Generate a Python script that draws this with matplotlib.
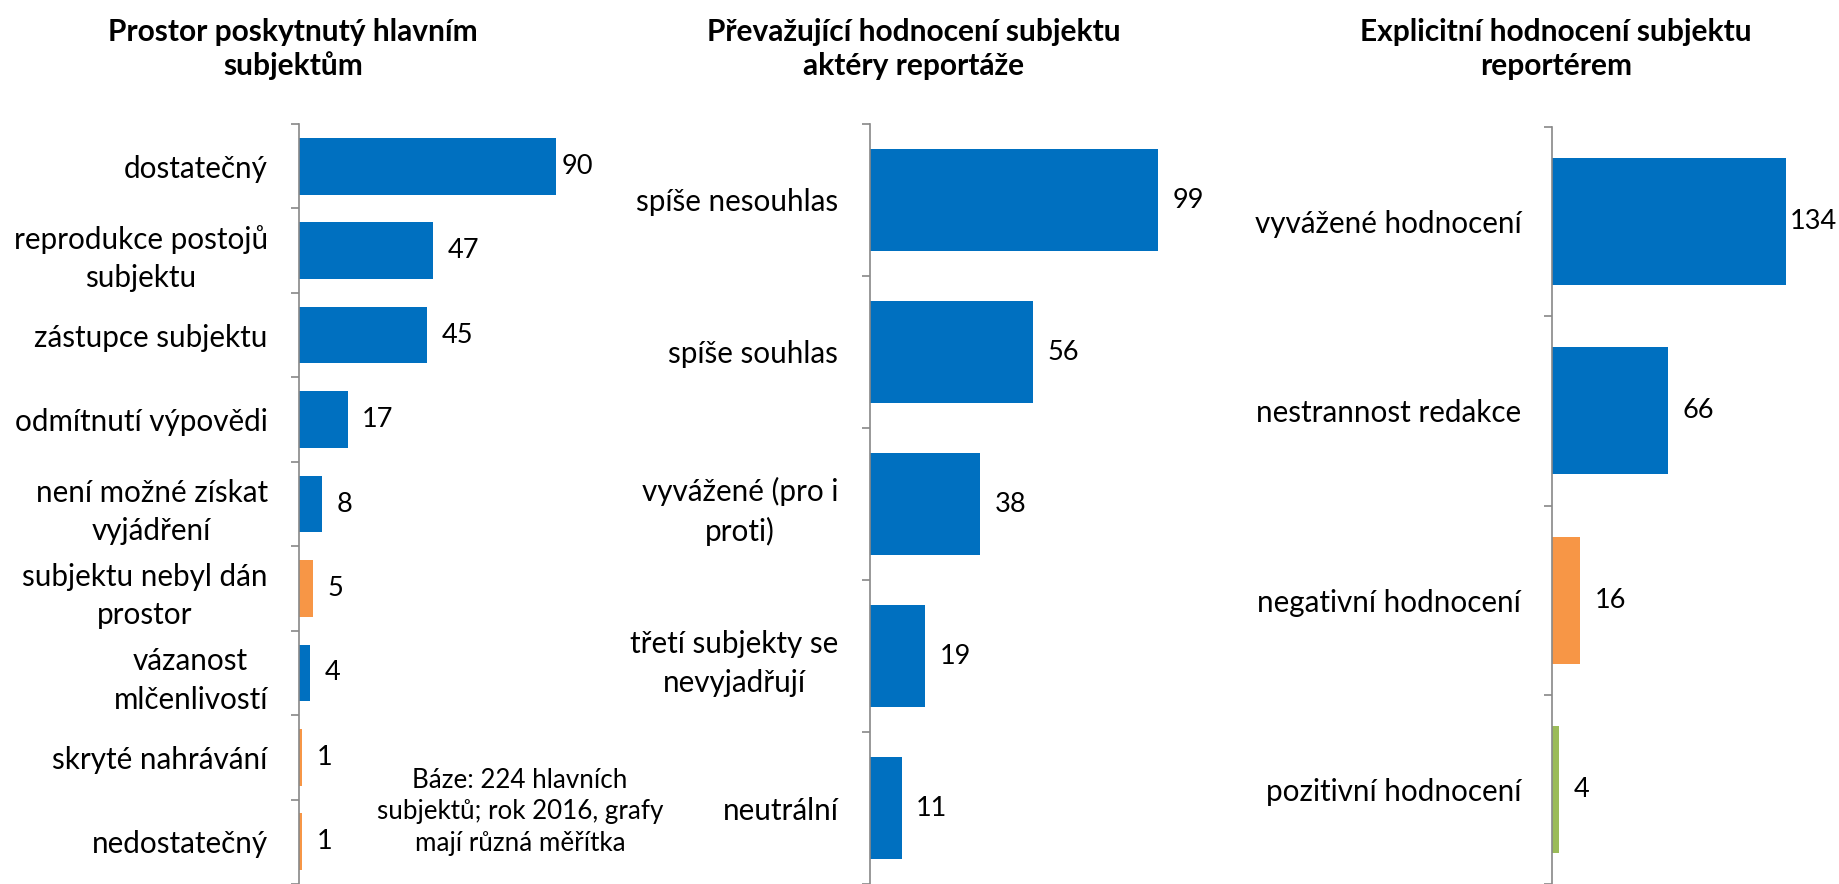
import matplotlib
matplotlib.use("Agg")
import matplotlib.pyplot as plt
from matplotlib.ticker import FixedLocator

plt.rcParams['font.family'] = ['Lato', 'DejaVu Sans']

# ---------------- data ----------------
title1 = "Prostor poskytnutý hlavním\nsubjektům"
cats1 = ["dostatečný", "reprodukce postojů\nsubjektu", "zástupce subjektu",
         "odmítnutí výpovědi", "není možné získat\nvyjádření",
         "subjektu nebyl dán\nprostor", "vázanost\nmlčenlivostí",
         "skryté nahrávání", "nedostatečný"]
vals1 = [90, 47, 45, 17, 8, 5, 4, 1, 1]
cols1 = ["blue", "blue", "blue", "blue", "blue", "orange", "blue", "orange", "orange"]

title2 = "Převažující hodnocení subjektu\naktéry reportáže"
cats2 = ["spíše nesouhlas", "spíše souhlas", "vyvážené (pro i\nproti)",
         "třetí subjekty se\nnevyjadřují", "neutrální"]
vals2 = [99, 56, 38, 19, 11]
cols2 = ["blue", "blue", "blue", "blue", "blue"]

title3 = "Explicitní hodnocení subjektu\nreportérem"
cats3 = ["vyvážené hodnocení", "nestrannost redakce", "negativní hodnocení",
         "pozitivní hodnocení"]
vals3 = [134, 66, 16, 4]
cols3 = ["blue", "blue", "orange", "green"]

note = "Báze: 224 hlavních\nsubjektů; rok 2016, grafy\nmají různá měřítka"

palette = {"blue": "#0070C0", "orange": "#F79646", "green": "#9BBB59"}

# ---------------- layout ----------------
W, H = 1840, 884
DPI = 100
fig = plt.figure(figsize=(W / DPI, H / DPI), dpi=DPI)

# (axis left px, top px, px per unit, plot-area right px, title center x px)
panels = [
    (title1, cats1, vals1, cols1, 299.0, 124, 2.855, 593, 293),
    (title2, cats2, vals2, cols2, 869.6, 124, 2.916, 1300, 914),
    (title3, cats3, vals3, cols3, 1552.5, 127, 1.743, 1837, 1556),
]

axis_col = "#888888"
renderer = fig.canvas.get_renderer()
gap_pt = 10.5
for title, cats, vals, cols, left, top, scale, right, tx in panels:
    aw_px = right - left
    ax = fig.add_axes([left / W, 0, aw_px / W, (H - top) / H])
    n = len(cats)
    pos = list(range(n))
    ax.barh(pos, vals, height=0.67, color=[palette[c] for c in cols])
    ax.set_xlim(0, aw_px / scale)
    ax.set_ylim(n - 0.5, -0.5)
    ax.set_yticks(pos)
    ax.set_yticklabels(cats, fontsize=21.3, multialignment='center', linespacing=1.44)
    ax.yaxis.set_minor_locator(FixedLocator([i - 0.5 for i in range(n + 1)]))
    ax.tick_params(axis='y', which='major', length=0, pad=22.5)
    ax.tick_params(axis='y', which='minor', length=6, width=1.2, color=axis_col)
    ax.set_xticks([])
    for s in ["top", "right", "bottom"]:
        ax.spines[s].set_visible(False)
    ax.spines["left"].set_color(axis_col)
    ax.spines["left"].set_linewidth(1.2)
    ax.patch.set_alpha(0)
    for p, v in zip(pos, vals):
        t = ax.annotate(str(v), xy=(v, p), xytext=(gap_pt, 0), textcoords='offset points',
                        ha='left', va='center', fontsize=19.5)
        bb = t.get_window_extent(renderer)
        if bb.x1 > right:
            shift_pt = (bb.x1 - right) * 72 / DPI
            t.set_position((gap_pt - shift_pt, 0))
    fig.text(tx / W, 1 - 49 / H, title, ha='center', va='center', fontsize=21.5,
             fontweight='bold', linespacing=1.25)

fig.text(520 / W, 1 - 812 / H, note, ha='center', va='center', fontsize=18.7,
         linespacing=1.30)

fig.savefig("out.png", dpi=DPI)
